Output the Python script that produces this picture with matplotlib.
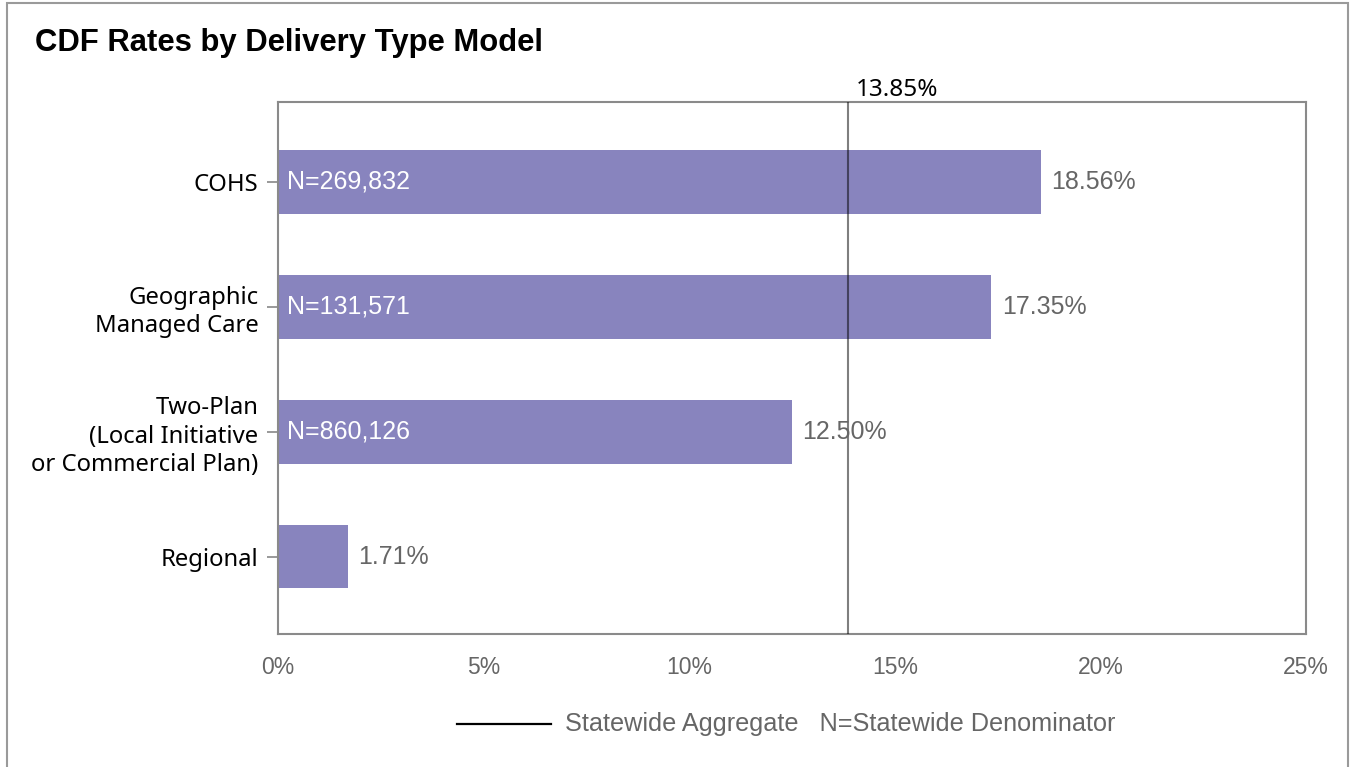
import matplotlib
matplotlib.use("Agg")
import matplotlib.pyplot as plt
from matplotlib.patches import Rectangle
from matplotlib.lines import Line2D

categories = ["COHS", "Geographic\nManaged Care", "Two-Plan\n(Local Initiative\nor Commercial Plan)", "Regional"]
rates = [18.56, 17.35, 12.50, 1.71]
denominators = ["N=269,832", "N=131,571", "N=860,126", None]
statewide = 13.85
xticks = [0, 5, 10, 15, 20, 25]
xtick_labels = ["0%", "5%", "10%", "15%", "20%", "25%"]

W, H = 1352, 767
fig = plt.figure(figsize=(W / 100, H / 100), dpi=100)
fig.patch.set_facecolor("white")

# outer frame
fig.add_artist(Rectangle((7 / W, -0.05), (1348 - 7) / W, 1.05 - 3 / H,
                         transform=fig.transFigure, fill=False,
                         edgecolor="#9a9a9a", linewidth=1.5))

ax = fig.add_axes([278 / W, 1 - 634 / H, (1306 - 278) / W, (634 - 102) / H])

ypos = list(range(len(categories)))
ax.barh(ypos, rates, height=0.51, color="#8884be", zorder=2)
ax.set_xlim(0, 25)
ax.set_ylim(3.62, -0.64)

ax.axvline(statewide, color="black", alpha=0.5, linewidth=1.5, zorder=3)
ax.text(statewide + 0.2, -0.64, f"{statewide:.2f}%", ha="left", va="bottom",
        fontsize=17.5, color="black", family="Noto Sans")

for y, r, n in zip(ypos, rates, denominators):
    ax.text(r + 0.25, y, f"{r:.2f}%", ha="left", va="center",
            fontsize=18, color="#666666", family="Liberation Sans", zorder=4)
    if n:
        ax.text(0.22, y, n, ha="left", va="center", fontsize=18,
                color="white", family="Liberation Sans", zorder=4)

ax.set_yticks(ypos)
ax.set_yticklabels(categories, fontsize=17.2, family="Noto Sans", color="black",
                   linespacing=1.25)
ax.set_xticks(xticks)
ax.set_xticklabels(xtick_labels, fontsize=16.5, family="Liberation Sans", color="#666666")
ax.tick_params(axis="x", length=0, pad=16)
ax.tick_params(axis="y", length=8, width=1.2, color="#888888", pad=6)
for s in ax.spines.values():
    s.set_color("#8a8a8a")
    s.set_linewidth(1.5)

fig.text(35 / W, 1 - 43 / H, "CDF Rates by Delivery Type Model", ha="left", va="center",
         fontsize=22.3, fontweight="bold", family="Liberation Sans", color="black")

# legend
fig.add_artist(Line2D([457 / W, 551 / W], [1 - 724 / H, 1 - 724 / H],
                      transform=fig.transFigure, color="black", linewidth=1.6))
fig.text(565 / W, 1 - 724 / H, "Statewide Aggregate   N=Statewide Denominator",
         ha="left", va="center", fontsize=18.2, family="Liberation Sans", color="#666666")

fig.savefig("out.png", dpi=100, facecolor="white")
